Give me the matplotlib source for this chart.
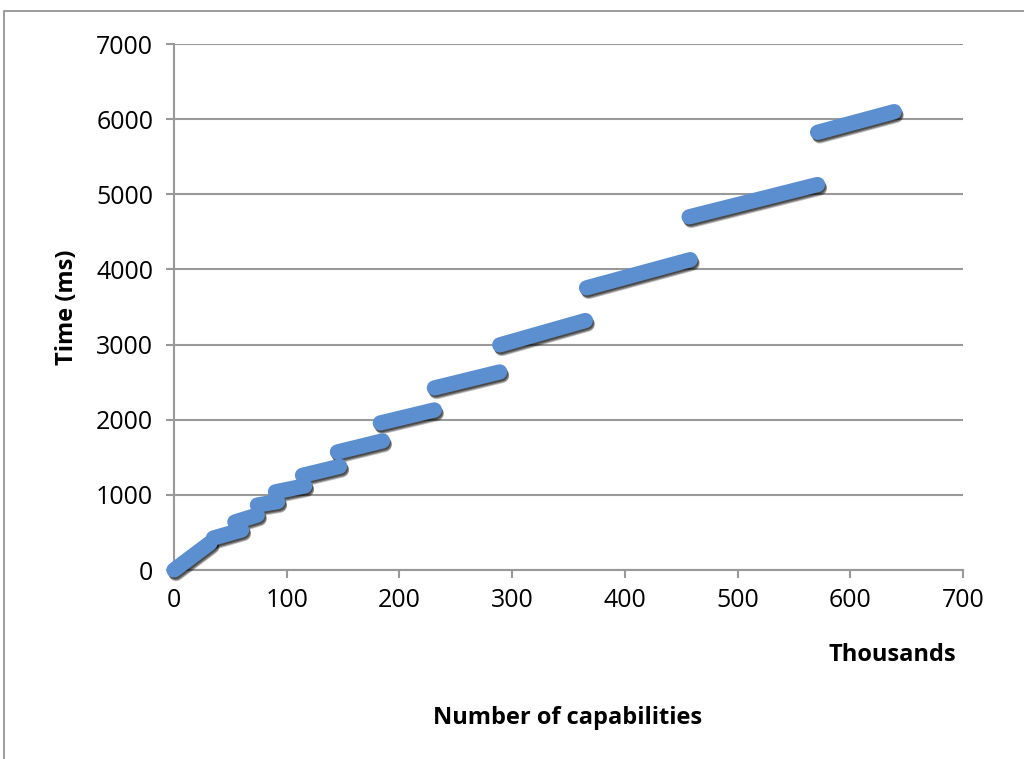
import matplotlib
matplotlib.use("Agg")
import matplotlib.pyplot as plt
import matplotlib.transforms as mtransforms
from matplotlib.patches import Rectangle

# segments of the scatter (x in thousands of capabilities, y in ms)
seg_x_start = [0, 35, 54, 74, 90, 114, 145, 183, 231, 289, 366, 457, 571]
seg_x_end = [32, 60, 74, 92, 116, 147, 185, 231, 289, 365, 458, 571, 639]
seg_y_start = [0, 426, 639, 865, 1040, 1260, 1571, 1957, 2423, 2996, 3755, 4700, 5825]
seg_y_end = [360, 533, 732, 910, 1120, 1380, 1718, 2130, 2636, 3320, 4130, 5130, 6100]

x_ticks = [0, 100, 200, 300, 400, 500, 600, 700]
y_ticks = [0, 1000, 2000, 3000, 4000, 5000, 6000, 7000]

plt.rcParams['font.family'] = ['Open Sans', 'DejaVu Sans']

fig = plt.figure(figsize=(10.24, 7.59), dpi=100)
ax = fig.add_axes([174 / 1024, 1 - 570 / 759, (963 - 174) / 1024, (570 - 44) / 759])

# outer chart frame
fig.patches.append(Rectangle((4 / 1024, -0.2), 1.5, 1.2 - 11 / 759,
                             transform=fig.transFigure, fill=False,
                             edgecolor='#8c8c8c', linewidth=1.2))

# soft drop shadow: a few offset layers, then the blue marks on top
for dx, dy, a in [(2, -4, 0.25), (2, -3, 0.35), (1, -2, 0.4)]:
    shadow = mtransforms.offset_copy(ax.transData, fig=fig, x=dx, y=dy, units='dots')
    for xs, xe, ys, ye in zip(seg_x_start, seg_x_end, seg_y_start, seg_y_end):
        ax.plot([xs, xe], [ys, ye], color='black', alpha=a, linewidth=10.5,
                solid_capstyle='round', transform=shadow, clip_on=False, zorder=3)
for xs, xe, ys, ye in zip(seg_x_start, seg_x_end, seg_y_start, seg_y_end):
    ax.plot([xs, xe], [ys, ye], color='#5b8fd0', linewidth=11,
            solid_capstyle='round', clip_on=False, zorder=4)

ax.set_xlim(0, 700)
ax.set_ylim(0, 7000)
ax.set_xticks(x_ticks)
ax.set_yticks(y_ticks)
ax.yaxis.grid(True, color='#999999', linewidth=1.5)
ax.set_axisbelow(True)
for s in ['top', 'right']:
    ax.spines[s].set_visible(False)
for s in ['left', 'bottom']:
    ax.spines[s].set_color('#999999')
    ax.spines[s].set_linewidth(1.5)
ax.tick_params(axis='both', colors='#999999', width=1.5, length=6,
               labelcolor='black', labelsize=18)
ax.tick_params(axis='y', pad=9)
ax.tick_params(axis='x', pad=7)

ax.set_ylabel('Time (ms)', fontsize=17, fontweight='bold', labelpad=12)
fig.text(892 / 1024, 1 - 655 / 759, 'Thousands', fontsize=17, fontweight='bold',
         ha='center', va='center')
fig.text(568 / 1024, 1 - 718 / 759, 'Number of capabilities', fontsize=17,
         fontweight='bold', ha='center', va='center')

fig.savefig('out.png', dpi=100)
